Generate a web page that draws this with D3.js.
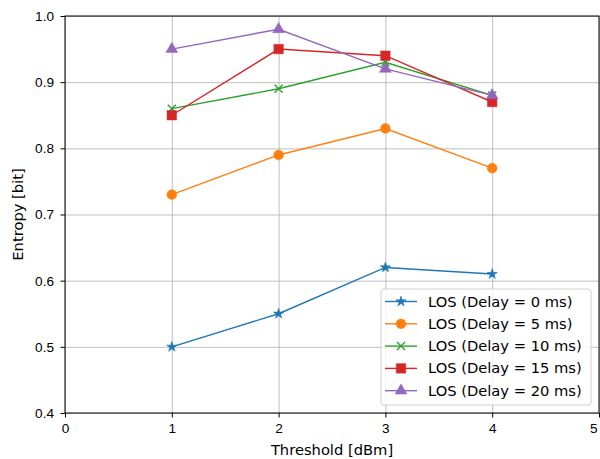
<!DOCTYPE html>
<html>
<head>
<meta charset="utf-8">
<script src="https://cdn.jsdelivr.net/npm/d3@7"></script>
<style>
  body { margin: 0; background: #fff; }
  svg { font-family: "DejaVu Sans", sans-serif; }
  .grid line { stroke: #b0b0b0; stroke-width: 0.8; }
  .grid path { display: none; }
  .axis text { font-size: 13.6px; fill: #000; }
</style>
</head>
<body>
<svg width="600" height="459"></svg>
<script>
let thresholds = [1, 2, 3, 4];
let seriesNames = ['LOS (Delay = 0 ms)', 'LOS (Delay = 5 ms)', 'LOS (Delay = 10 ms)',
  'LOS (Delay = 15 ms)', 'LOS (Delay = 20 ms)'];
let delay0 = [0.50, 0.55, 0.62, 0.61];
let delay5 = [0.73, 0.79, 0.83, 0.77];
let delay10 = [0.86, 0.89, 0.93, 0.88];
let delay15 = [0.85, 0.95, 0.94, 0.87];
let delay20 = [0.95, 0.98, 0.92, 0.88];
let xTicks = [0, 1, 2, 3, 4, 5];
let yTicks = [0.4, 0.5, 0.6, 0.7, 0.8, 0.9, 1.0];

let colors = ['#1f77b4', '#ff7f0e', '#2ca02c', '#d62728', '#9467bd'];
let markers = [d3.symbolStar, d3.symbolCircle, 'x', d3.symbolSquare, d3.symbolTriangle];
let markerSizes = [34, 75, 0, 90, 60];

let series = [delay0, delay5, delay10, delay15, delay20].map((vals, i) => ({
  name: seriesNames[i],
  color: colors[i],
  marker: markers[i],
  size: markerSizes[i],
  points: vals.map((v, j) => ({x: thresholds[j], y: v}))
}));

let plotLeft = 65, plotRight = 599, plotTop = 16, plotBottom = 413;

let svg = d3.select('svg');

const xScale = d3.scaleLinear().domain([0, 5]).range([plotLeft, plotRight]);
const yScale = d3.scaleLinear().domain([0.4, 1.0]).range([plotBottom, plotTop]);

// background grid
svg.append('g')
  .attr('class', 'grid')
  .attr('transform', `translate(0, ${plotBottom})`)
  .call(d3.axisBottom(xScale).tickValues(xTicks).tickSize(-(plotBottom - plotTop)).tickFormat(''));

svg.append('g')
  .attr('class', 'grid')
  .attr('transform', `translate(${plotLeft}, 0)`)
  .call(d3.axisLeft(yScale).tickValues(yTicks).tickSize(-(plotRight - plotLeft)).tickFormat(''));

const line = d3.line().x(d => xScale(d.x)).y(d => yScale(d.y));

function drawMarker(g, s, color) {
  if (s.marker === 'x') {
    let r = 4;
    g.append('path')
      .attr('d', `M${-r},${-r}L${r},${r}M${-r},${r}L${r},${-r}`)
      .attr('stroke', color)
      .attr('stroke-width', 1.4)
      .attr('fill', 'none');
  } else {
    g.append('path')
      .attr('d', d3.symbol().type(s.marker).size(s.size)())
      .attr('fill', color)
      .attr('stroke', color)
      .attr('stroke-width', 0.5);
  }
}

series.forEach(s => {
  svg.append('path')
    .datum(s.points)
    .attr('d', line)
    .attr('fill', 'none')
    .attr('stroke', s.color)
    .attr('stroke-width', 1.4);

  s.points.forEach(p => {
    let g = svg.append('g').attr('transform', `translate(${xScale(p.x)}, ${yScale(p.y)})`);
    drawMarker(g, s, s.color);
  });
});

// axes frame
svg.append('rect')
  .attr('x', plotLeft).attr('y', plotTop)
  .attr('width', plotRight - plotLeft).attr('height', plotBottom - plotTop)
  .attr('fill', 'none').attr('stroke', '#000').attr('stroke-width', 1);

let xAxis = svg.append('g')
  .attr('class', 'axis')
  .attr('transform', `translate(0, ${plotBottom})`)
  .call(d3.axisBottom(xScale).tickValues(xTicks).tickSize(4.5).tickPadding(6).tickFormat(d3.format('d')));
xAxis.select('.domain').remove();
// last label sits at the window edge; keep it fully inside
xAxis.selectAll('.tick').filter(d => d === 5).select('text')
  .attr('text-anchor', 'end').attr('dx', '-0.15em');

let yAxis = svg.append('g')
  .attr('class', 'axis')
  .attr('transform', `translate(${plotLeft}, 0)`)
  .call(d3.axisLeft(yScale).tickValues(yTicks).tickSize(4.5).tickPadding(6.5).tickFormat(d3.format('.1f')));
yAxis.select('.domain').remove();

svg.append('text')
  .attr('x', (plotLeft + plotRight) / 2)
  .attr('y', 455)
  .attr('text-anchor', 'middle')
  .attr('font-size', 14.7)
  .text('Threshold [dBm]');

svg.append('text')
  .attr('transform', `translate(23, ${(plotTop + plotBottom) / 2}) rotate(-90)`)
  .attr('text-anchor', 'middle')
  .attr('font-size', 14.7)
  .text('Entropy [bit]');

// legend
let legend = svg.append('g').attr('transform', 'translate(381, 289)');
legend.append('rect')
  .attr('width', 210).attr('height', 116)
  .attr('rx', 3)
  .attr('fill', 'rgba(255,255,255,0.8)')
  .attr('stroke', '#d0d0d0');

series.forEach((s, i) => {
  let y = 12.5 + i * 22.3;
  legend.append('line')
    .attr('x1', 4).attr('x2', 36).attr('y1', y).attr('y2', y)
    .attr('stroke', s.color).attr('stroke-width', 1.4);
  let g = legend.append('g').attr('transform', `translate(20, ${y})`);
  drawMarker(g, s, s.color);
  legend.append('text')
    .attr('x', 47).attr('y', y + 5)
    .attr('font-size', 14.7)
    .text(s.name);
});
</script>
</body>
</html>
